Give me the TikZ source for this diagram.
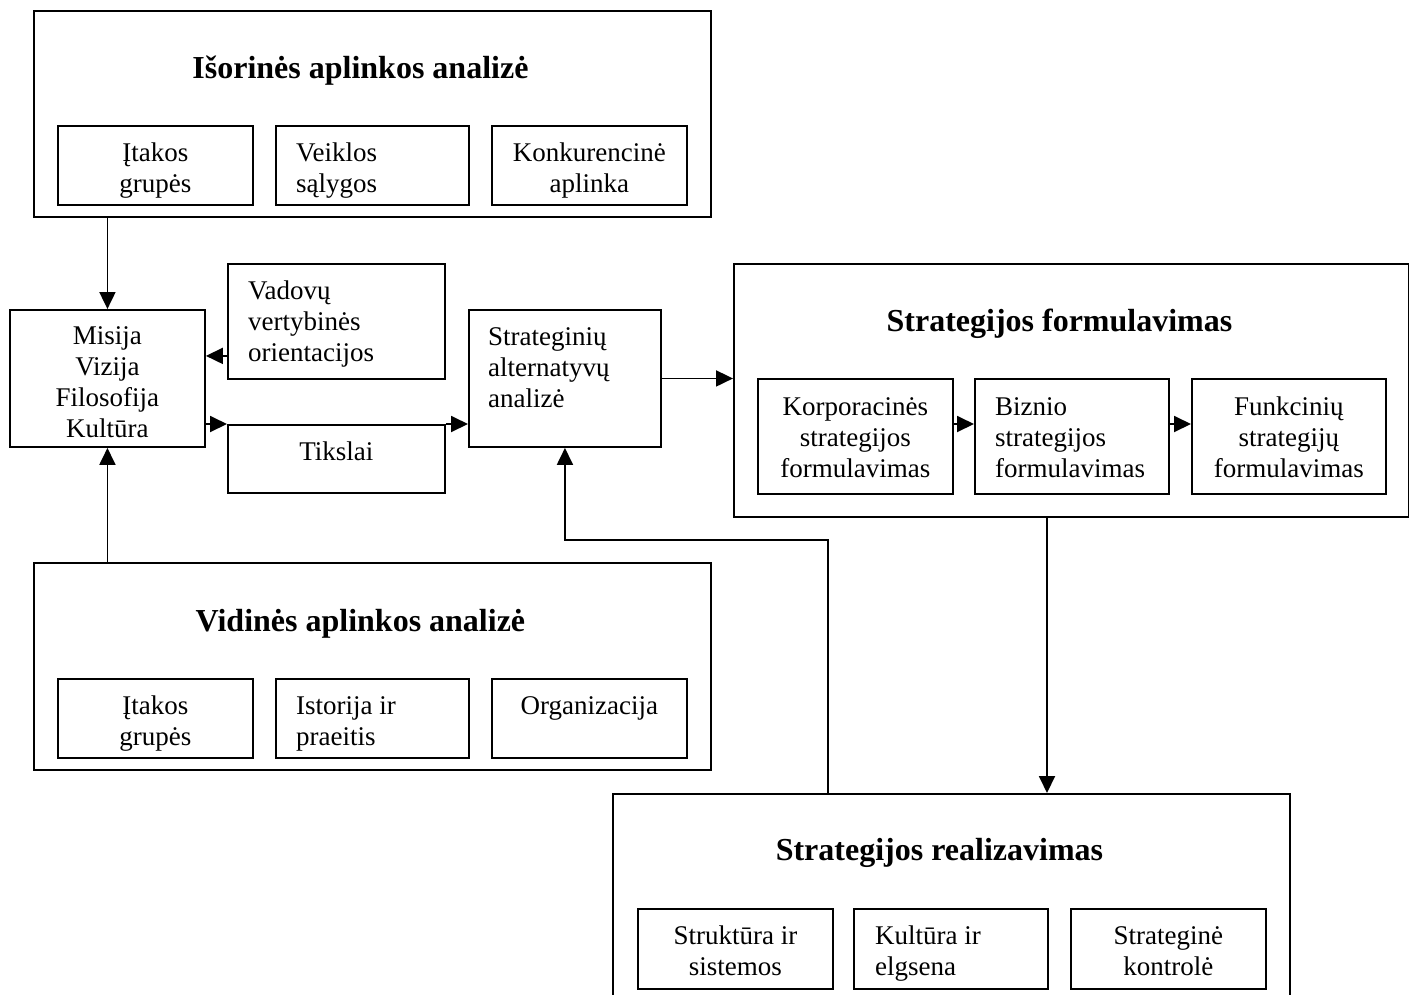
\documentclass[tikz,border=0pt]{standalone}
\usepackage{fontspec}
\setmainfont{Liberation Serif}
\usetikzlibrary{arrows.meta,calc}

\tikzset{
  box/.style={draw, line width=1.9pt, anchor=north west, inner sep=0pt},
  txt/.style={inner sep=0pt, font=\fontsize{27}{31}\selectfont},
  ctxt/.style={txt, align=flush center, anchor=base},
  ltxt/.style={txt, align=flush left, anchor=base west},
  ttl/.style={inner sep=0pt, anchor=base, font=\bfseries\fontsize{32}{36}\selectfont},
  arr/.style={line width=1.9pt, -{Triangle[length=17pt,width=16pt]}}
}

\begin{document}
\begin{tikzpicture}[x=1pt, y=-1pt]
\clip (0,0) rectangle (1409,994);
\fill[white] (0,0) rectangle (1409,994);

% external environment block
\node[box, minimum width=677pt, minimum height=206pt] (ext) at (33,10) {};
\node[ttl] (extT) at ($(ext.north)+(-12,68)$) {Išorinės aplinkos analizė};
\node[box, minimum width=195pt, minimum height=79pt] (ext1) at (57,125) {};
\node[box, minimum width=193pt, minimum height=79pt] (ext2) at (275,125) {};
\node[box, minimum width=195pt, minimum height=79pt] (ext3) at (491,125) {};
\node[ctxt, text width=185pt] (ext1T) at ($(ext1.north)+(0,36)$) {Įtakos\\grupės};
\node[ltxt, text width=165pt] (ext2T) at ($(ext2.north west)+(21,36)$) {Veiklos\\sąlygos};
\node[ctxt, text width=185pt] (ext3T) at ($(ext3.north)+(0,36)$) {Konkurencinė\\aplinka};

% mission, values, goals
\node[box, minimum width=195pt, minimum height=137pt] (mis) at (9,309) {};
\node[ctxt, text width=185pt] (misT) at ($(mis.north)+(0,35)$) {Misija\\Vizija\\Filosofija\\Kultūra};
\node[box, minimum width=217pt, minimum height=115pt] (vad) at (227,263) {};
\node[ltxt, text width=190pt] (vadT) at ($(vad.north west)+(21,36)$) {Vadovų\\vertybinės\\orientacijos};
\node[box, minimum width=217pt, minimum height=68pt] (tik) at (227,424) {};
\node[ctxt, text width=205pt] (tikT) at ($(tik.north)+(0,36)$) {Tikslai};

% strategic alternatives
\node[box, minimum width=192pt, minimum height=137pt] (strat) at (468,309) {};
\node[ltxt, text width=165pt] (stratT) at ($(strat.north west)+(20,36)$) {Strateginių\\alternatyvų\\analizė};

% strategy formulation block
\node[box, minimum width=675pt, minimum height=253pt] (form) at (733,263) {};
\node[ttl] (formT) at ($(form.north)+(-12,68)$) {Strategijos formulavimas};
\node[box, minimum width=195pt, minimum height=115pt] (f1) at (757,378) {};
\node[box, minimum width=194pt, minimum height=115pt] (f2) at (974,378) {};
\node[box, minimum width=194pt, minimum height=115pt] (f3) at (1191,378) {};
\node[ctxt, text width=185pt] (f1T) at ($(f1.north)+(0,37)$) {Korporacinės\\strategijos\\formulavimas};
\node[ltxt, text width=170pt] (f2T) at ($(f2.north west)+(21,37)$) {Biznio\\strategijos\\formulavimas};
\node[ctxt, text width=185pt] (f3T) at ($(f3.north)+(0,37)$) {Funkcinių\\strategijų\\formulavimas};

% internal environment block
\node[box, minimum width=677pt, minimum height=207pt] (int) at (33,562) {};
\node[ttl] (intT) at ($(int.north)+(-12,69)$) {Vidinės aplinkos analizė};
\node[box, minimum width=195pt, minimum height=79pt] (i1) at (57,678) {};
\node[box, minimum width=193pt, minimum height=79pt] (i2) at (275,678) {};
\node[box, minimum width=195pt, minimum height=79pt] (i3) at (491,678) {};
\node[ctxt, text width=185pt] (i1T) at ($(i1.north)+(0,36)$) {Įtakos\\grupės};
\node[ltxt, text width=165pt] (i2T) at ($(i2.north west)+(21,36)$) {Istorija ir\\praeitis};
\node[ctxt, text width=185pt] (i3T) at ($(i3.north)+(0,36)$) {Organizacija};

% strategy implementation block (runs past the lower edge)
\node[box, minimum width=677pt, minimum height=240pt] (real) at (612,793) {};
\node[ttl] (realT) at ($(real.north)+(-12,67)$) {Strategijos realizavimas};
\node[box, minimum width=195pt, minimum height=80pt] (r1) at (637,908) {};
\node[box, minimum width=194pt, minimum height=80pt] (r2) at (853,908) {};
\node[box, minimum width=195pt, minimum height=80pt] (r3) at (1070,908) {};
\node[ctxt, text width=185pt] (r1T) at ($(r1.north)+(0,36)$) {Struktūra ir\\sistemos};
\node[ltxt, text width=165pt] (r2T) at ($(r2.north west)+(22,36)$) {Kultūra ir\\elgsena};
\node[ctxt, text width=185pt] (r3T) at ($(r3.north)+(0,36)$) {Strateginė\\kontrolė};

% connectors
\draw[arr] (mis.north |- ext.south) -- (mis.north);
\draw[arr] (mis.south |- int.north) -- (mis.south);
\coordinate (vadOut) at ($(vad.south west)+(0,-24)$);
\draw[arr] (vadOut) -- (vadOut -| mis.east);
\draw[arr] (mis.east |- tik.north) -- (tik.north west);
\draw[arr] (tik.north east) -- (tik.north east -| strat.west);
\draw[arr] (strat.east) -- (strat.east -| form.west);
\coordinate (f1Out) at ($(f1.north east)+(0,46)$);
\draw[arr] (f1Out) -- (f1Out -| f2.west);
\coordinate (f2Out) at ($(f2.north east)+(0,46)$);
\draw[arr] (f2Out) -- (f2Out -| f3.west);
\coordinate (formOut) at ($(form.south west)+(314,0)$);
\draw[arr] (formOut) -- (formOut |- real.north);
\coordinate (realOut) at ($(real.north west)+(216,0)$);
\draw[arr] (realOut) |- ($(strat.south)+(0,92)$) -- (strat.south);
\end{tikzpicture}
\end{document}
